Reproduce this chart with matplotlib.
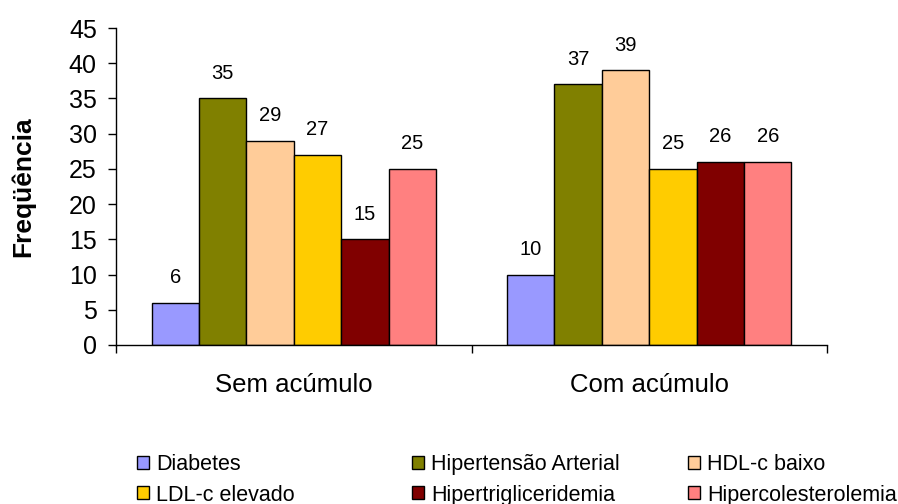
import numpy as np
import matplotlib
matplotlib.use("Agg")
import matplotlib.pyplot as plt
from matplotlib.ticker import FixedLocator, MultipleLocator

plt.rcParams['font.family'] = ['Liberation Sans', 'DejaVu Sans']

# --- dados ---
grupos = ['Sem acúmulo', 'Com acúmulo']
fatores = ['Diabetes', 'Hipertensão Arterial', 'HDL-c baixo',
           'LDL-c elevado', 'Hipertrigliceridemia', 'Hipercolesterolemia']
cores = ['#9999FF', '#808000', '#FFCC99', '#FFCC00', '#800000', '#FF8080']
sem_acumulo = [6, 35, 29, 27, 15, 25]
com_acumulo = [10, 37, 39, 25, 26, 26]

valores = np.array([sem_acumulo, com_acumulo])

fig = plt.figure(figsize=(8.98, 5.04), dpi=100)
ax = fig.add_axes([116 / 898, 1 - 345 / 504, 711 / 898, 317 / 504])

x = np.arange(len(grupos))
largura = 0.8 / len(fatores)
barras = []
for j, (nome, cor) in enumerate(zip(fatores, cores)):
    pos = x + (j - (len(fatores) - 1) / 2) * largura
    b = ax.bar(pos, valores[:, j], width=largura, color=cor,
               edgecolor='black', linewidth=1.0, label=nome)
    barras.append(b)
    for xi, v in zip(pos, valores[:, j]):
        ax.annotate(str(v), (xi, v), xytext=(0, 14), textcoords='offset points',
                    ha='center', va='baseline', fontsize=14.5)

ax.set_xlim(-0.5, 1.5)
ax.set_ylim(0, 45)
ax.yaxis.set_major_locator(MultipleLocator(5))

# rótulos das categorias no centro, marcas nas divisões
ax.set_xticks(x)
ax.set_xticklabels(grupos, fontsize=18.5)
ax.tick_params(axis='x', which='major', length=0, pad=20)
ax.xaxis.set_minor_locator(FixedLocator([-0.5, 0.5, 1.5]))
ax.tick_params(axis='x', which='minor', length=5.5, width=1, direction='out')
ax.tick_params(axis='y', length=5.8, width=1, pad=8, labelsize=18)

for s in ['top', 'right']:
    ax.spines[s].set_visible(False)
for s in ['left', 'bottom']:
    ax.spines[s].set_linewidth(1)

ax.set_ylabel('Freqüência', fontsize=19, fontweight='bold')
ax.yaxis.set_label_coords(-0.114, 0.5)

# legenda em três colunas de largura fixa
col_x = [137, 412, 688]
for c in range(3):
    idx = [c, c + 3]
    fig.legend([barras[i] for i in idx], [fatores[i] for i in idx],
               loc='center left', bbox_to_anchor=(col_x[c] / 898, 1 - 480 / 504),
               frameon=False, fontsize=15.5, handlelength=0.56, handleheight=0.56,
               handletextpad=0.32, labelspacing=0.42, borderpad=0, borderaxespad=0)

fig.savefig('out.png', dpi=100)
